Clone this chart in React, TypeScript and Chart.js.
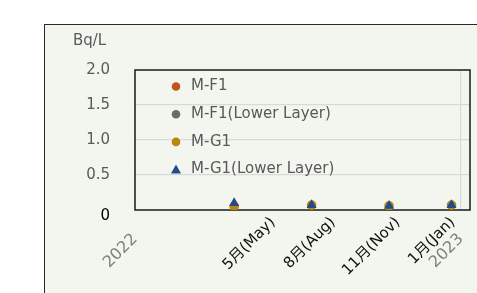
import React, { useEffect, useRef } from "react";
import { Chart, registerables } from "chart.js";

Chart.register(...registerables);

// months since 1 Jan 2022
const sampleMonths = [3.65, 6.5, 9.35, 11.65];
const mf1: (number | null)[] = [null, null, null, null];
const mf1Lower: (number | null)[] = [null, null, null, null];
const mg1 = [0.05, 0.07, 0.06, 0.07];
const mg1Lower = [0.1, 0.07, 0.06, 0.07];

const xTickValues = [0, 5.08, 7.29, 9.68, 11.7, 12];
const xTickLabels = ["2022", "5月(May)", "8月(Aug)", "11月(Nov)", "1月(Jan)", "2023"];
const yearTickValues = [0, 12];
const yTickValues = [0, 0.5, 1.0, 1.5, 2.0];

const seriesNames = ["M-F1", "M-F1(Lower Layer)", "M-G1", "M-G1(Lower Layer)"];
const seriesColors = ["#c0561e", "#6b6b6b", "#b8860b", "#244a8a"];
const seriesShapes = ["circle", "circle", "circle", "triangle"];

const FONT = "'DejaVu Sans', 'Noto Sans CJK JP', sans-serif";

const framePlugin = {
  id: "frame",
  beforeDraw(chart: any) {
    const { ctx, width, height } = chart;
    ctx.save();
    ctx.fillStyle = "#ffffff";
    ctx.fillRect(0, 0, width, height);
    ctx.fillStyle = "#f2f6ef";
    ctx.fillRect(44.5, 24.5, width, height);
    ctx.strokeStyle = "#2a2a2a";
    ctx.lineWidth = 1;
    ctx.strokeRect(44.5, 24.5, width + 10, height + 10);
    // unit label
    ctx.fillStyle = "#595959";
    ctx.font = `15px ${FONT}`;
    ctx.textBaseline = "middle";
    ctx.textAlign = "left";
    ctx.fillText("Bq/L", 73, 41);
    ctx.restore();
  },
  beforeDatasetsDraw(chart: any) {
    const { ctx, chartArea } = chart;
    ctx.save();
    ctx.strokeStyle = "#1a1a1a";
    ctx.lineWidth = 1.5;
    ctx.strokeRect(chartArea.left, chartArea.top, chartArea.right - chartArea.left, chartArea.bottom - chartArea.top);
    ctx.restore();
  },
};

const legendPlugin = {
  id: "innerLegend",
  afterDatasetsDraw(chart: any) {
    const { ctx, chartArea } = chart;
    ctx.save();
    const x0 = chartArea.left + 41;
    const y0 = chartArea.top + 16.5;
    const gap = 27.7;
    seriesNames.forEach((name, i) => {
      const y = y0 + i * gap;
      ctx.fillStyle = seriesColors[i];
      if (seriesShapes[i] === "triangle") {
        ctx.beginPath();
        ctx.moveTo(x0, y - 5);
        ctx.lineTo(x0 + 5, y + 4);
        ctx.lineTo(x0 - 5, y + 4);
        ctx.closePath();
        ctx.fill();
      } else {
        ctx.beginPath();
        ctx.arc(x0, y, 4.3, 0, Math.PI * 2);
        ctx.fill();
      }
      ctx.fillStyle = "#595959";
      ctx.font = `15px ${FONT}`;
      ctx.textBaseline = "middle";
      ctx.textAlign = "left";
      ctx.fillText(name, x0 + 15, y);
    });
    ctx.restore();
  },
};

export default function App() {
  const ref = useRef<HTMLCanvasElement | null>(null);
  useEffect(() => {
    if (!ref.current) return;
    const dataSeries = [mf1, mf1Lower, mg1, mg1Lower];
    const orders = [3, 2, 1, 0];
    const chart = new Chart(ref.current, {
      type: "scatter",
      data: {
        datasets: seriesNames.map((name, i) => ({
          label: name,
          data: sampleMonths.map((m, j) => ({ x: m, y: dataSeries[i][j] as any })),
          backgroundColor: seriesColors[i],
          borderColor: seriesColors[i],
          pointStyle: seriesShapes[i] as any,
          pointRadius: seriesShapes[i] === "triangle" ? 5.8 : 4.8,
          borderWidth: 0,
          showLine: false,
          order: orders[i],
        })),
      },
      plugins: [framePlugin, legendPlugin],
      options: {
        animation: false,
        responsive: false,
        maintainAspectRatio: false,
        layout: { padding: { left: 0, top: 70, right: 7, bottom: 0 } },
        plugins: { legend: { display: false }, tooltip: { enabled: false } },
        scales: {
          x: {
            type: "linear",
            min: 0,
            max: 12.33,
            afterBuildTicks: (s: any) => {
              s.ticks = xTickValues.map((v) => ({ value: v }));
            },
            afterFit: (s: any) => {
              s.height = 83;
              s.paddingLeft = 0;
              s.paddingRight = 0;
            },
            grid: {
              drawTicks: false,
              color: (c: any) => (c.tick && c.tick.value === 12 ? "#d9d9d9" : "rgba(0,0,0,0)"),
              lineWidth: 1.2,
            },
            border: { display: false },
            ticks: {
              autoSkip: false,
              minRotation: 45,
              maxRotation: 45,
              padding: 4,
              color: (c: any) => (c.tick && yearTickValues.includes(c.tick.value) ? "#7f7f7f" : "#111111"),
              font: (c: any) =>
                c.tick && yearTickValues.includes(c.tick.value)
                  ? { family: FONT, size: 16, lineHeight: "64px" }
                  : { family: FONT, size: 15, lineHeight: "17px" },
              callback: (_v: any, i: number) => xTickLabels[i],
            },
          },
          y: {
            min: 0,
            max: 2,
            afterBuildTicks: (s: any) => {
              s.ticks = yTickValues.map((v) => ({ value: v }));
            },
            afterFit: (s: any) => {
              s.width = 135;
            },
            grid: {
              drawTicks: false,
              color: (c: any) => (c.tick && c.tick.value > 0 && c.tick.value < 2 ? "#d9d9d9" : "rgba(0,0,0,0)"),
              lineWidth: 1.2,
            },
            border: { display: false },
            ticks: {
              padding: 25,
              color: (c: any) => (c.tick && c.tick.value === 0 ? "#000000" : "#595959"),
              font: (c: any) =>
                c.tick && c.tick.value === 0
                  ? { family: FONT, size: 15, lineHeight: "12px" }
                  : { family: FONT, size: 15, lineHeight: "18px" },
              callback: (v: any) => (v === 0 ? ["", "0"] : Number(v).toFixed(1)),
            },
          },
        },
      },
    });
    return () => chart.destroy();
  }, []);
  return (
    <div style={{ position: "fixed", left: 0, top: 0, width: 477, height: 293 }}>
      <canvas ref={ref} width={477} height={293} style={{ display: "block", width: 477, height: 293 }} />
    </div>
  );
}
